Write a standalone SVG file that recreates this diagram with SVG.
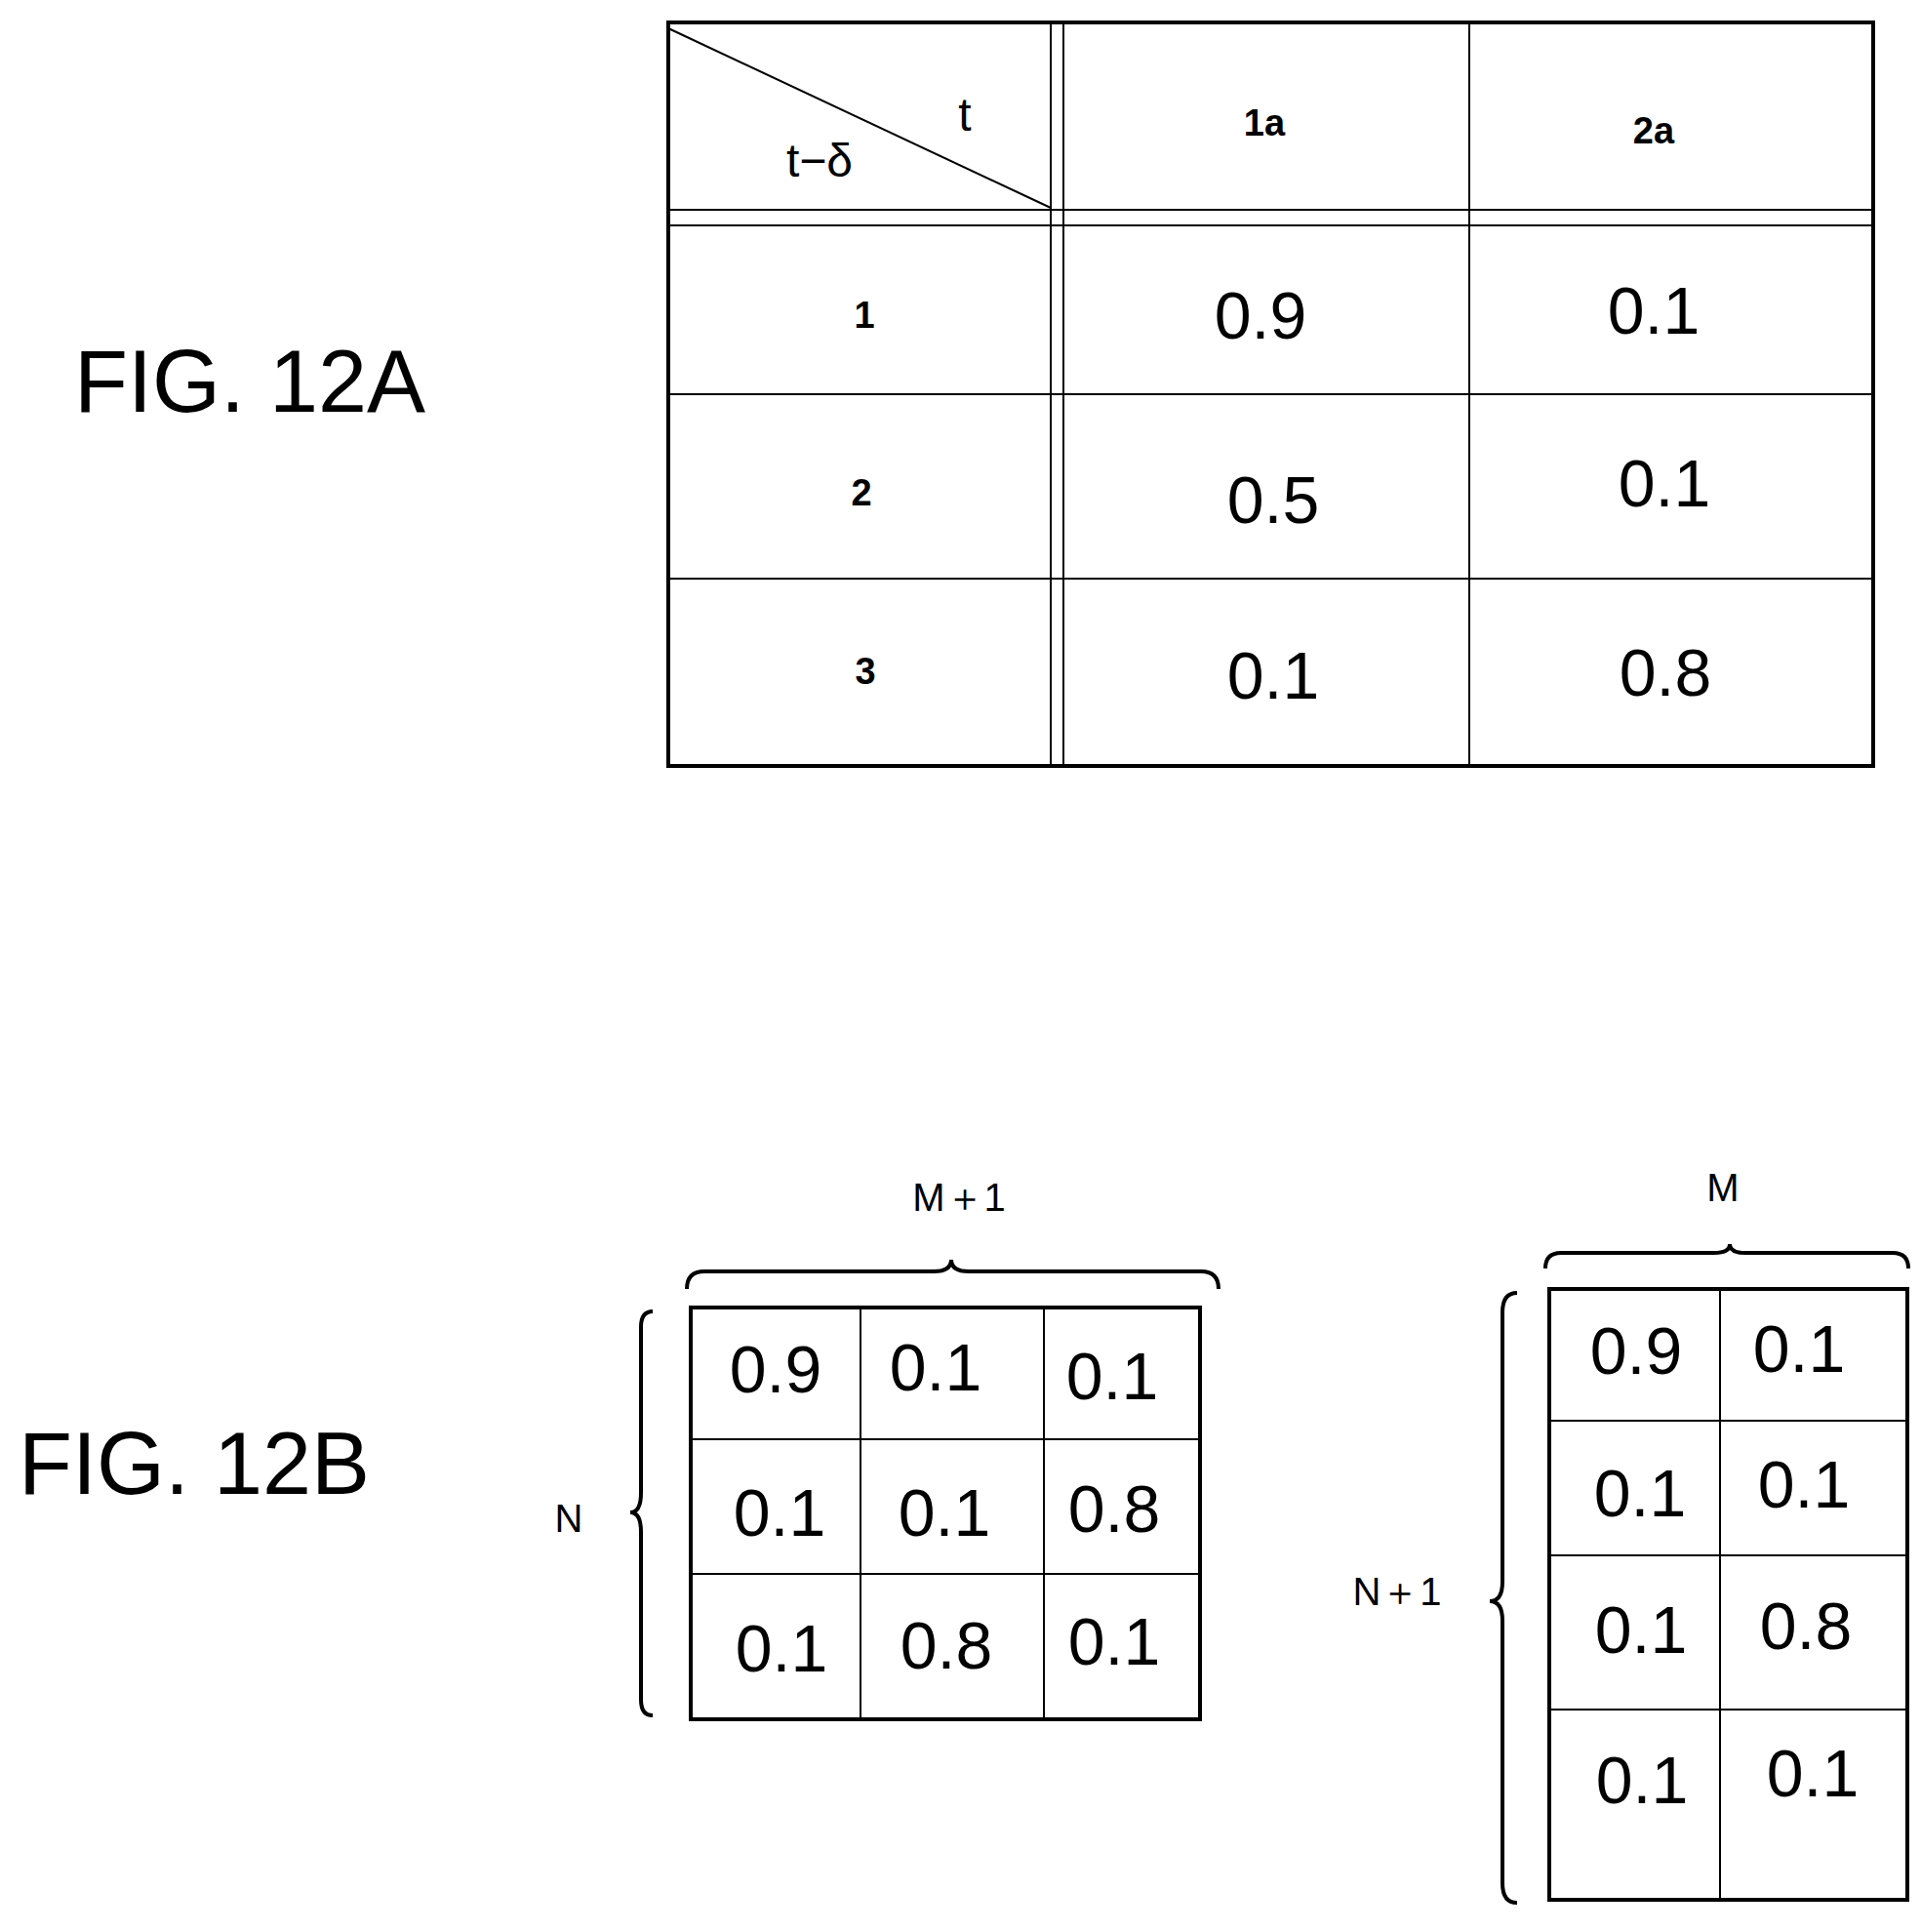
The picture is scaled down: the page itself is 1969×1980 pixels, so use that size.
<svg xmlns="http://www.w3.org/2000/svg" width="1969" height="1980" viewBox="0 0 1969 1980">
<style>
.o{fill:none;stroke:#000;stroke-width:4}
.i{fill:none;stroke:#000;stroke-width:2}
.v{font-family:"Liberation Sans",Arial,sans-serif;font-size:68px;text-anchor:middle;dominant-baseline:central}
.s{font-family:"Liberation Sans",Arial,sans-serif;font-size:38px;font-weight:bold;text-anchor:middle;dominant-baseline:central}
.l{font-family:"Liberation Sans",Arial,sans-serif;font-size:40px;text-anchor:middle;dominant-baseline:central}
.t{font-family:"Liberation Sans",Arial,sans-serif;font-size:48px;text-anchor:middle;dominant-baseline:central}
.f{font-family:"Liberation Sans",Arial,sans-serif;font-size:90px}
</style>
<rect width="1969" height="1980" fill="#fff"/>
<text class="f" x="76" y="422">FIG. 12A</text>
<text class="f" x="19" y="1531">FIG. 12B</text>
<g id="tableA">
<rect class="o" x="685" y="23" width="1235" height="762"/>
<line class="i" x1="1077" y1="23" x2="1077" y2="785"/>
<line class="i" x1="1090" y1="23" x2="1090" y2="785"/>
<line class="i" x1="685" y1="215" x2="1920" y2="215"/>
<line class="i" x1="685" y1="231" x2="1920" y2="231"/>
<line class="i" x1="1506" y1="23" x2="1506" y2="785"/>
<line class="i" x1="685" y1="404" x2="1920" y2="404"/>
<line class="i" x1="685" y1="593" x2="1920" y2="593"/>
<line class="i" x1="685" y1="29" x2="1077" y2="213"/>
<text class="t" x="989" y="117">t</text>
<text class="t" x="840" y="164">t−δ</text>
<text class="s" x="1296" y="126">1a</text>
<text class="s" x="1695" y="134">2a</text>
<text class="s" x="886" y="323">1</text>
<text class="s" x="883" y="505">2</text>
<text class="s" x="887" y="688">3</text>
<text class="v" x="1292" y="323">0.9</text>
<text class="v" x="1695" y="318">0.1</text>
<text class="v" x="1305" y="512">0.5</text>
<text class="v" x="1706" y="495">0.1</text>
<text class="v" x="1305" y="692">0.1</text>
<text class="v" x="1707" y="689">0.8</text>
</g>
<g id="matrixB1">
<rect class="o" x="708" y="1340" width="522" height="422"/>
<line class="i" x1="882" y1="1340" x2="882" y2="1762"/>
<line class="i" x1="1070" y1="1340" x2="1070" y2="1762"/>
<line class="i" x1="708" y1="1475" x2="1230" y2="1475"/>
<line class="i" x1="708" y1="1613" x2="1230" y2="1613"/>
<text class="v" x="795" y="1403">0.9</text>
<text class="v" x="959" y="1401">0.1</text>
<text class="v" x="1140" y="1410">0.1</text>
<text class="v" x="799" y="1550">0.1</text>
<text class="v" x="968" y="1550">0.1</text>
<text class="v" x="1142" y="1546">0.8</text>
<text class="v" x="801" y="1689">0.1</text>
<text class="v" x="970" y="1686">0.8</text>
<text class="v" x="1142" y="1682">0.1</text>
</g>
<g id="matrixB2">
<rect class="o" x="1588" y="1321" width="367" height="626"/>
<line class="i" x1="1763" y1="1321" x2="1763" y2="1947"/>
<line class="i" x1="1588" y1="1456" x2="1955" y2="1456"/>
<line class="i" x1="1588" y1="1594" x2="1955" y2="1594"/>
<line class="i" x1="1588" y1="1752" x2="1955" y2="1752"/>
<text class="v" x="1677" y="1384">0.9</text>
<text class="v" x="1844" y="1382">0.1</text>
<text class="v" x="1681" y="1530">0.1</text>
<text class="v" x="1849" y="1521">0.1</text>
<text class="v" x="1682" y="1670">0.1</text>
<text class="v" x="1851" y="1666">0.8</text>
<text class="v" x="1683" y="1824">0.1</text>
<text class="v" x="1858" y="1817">0.1</text>
</g>
<g id="connectors">
<path class="o" stroke-width="3" d="M704,1321 Q704,1303 722,1303 L957,1303 Q975,1303 975,1291 Q975,1303 993,1303 L1231,1303 Q1249,1303 1249,1321"/>
<path class="o" stroke-width="3" d="M669,1344 Q657,1344 657,1360 L657,1530 Q657,1550 646,1550 Q657,1550 657,1570 L657,1742 Q657,1758 669,1758"/>
<path class="o" stroke-width="3" d="M1584,1300 Q1584,1284 1600,1284 L1757,1284 Q1773,1284 1773,1275 Q1773,1284 1789,1284 L1940,1284 Q1956,1284 1956,1300"/>
<path class="o" stroke-width="3" d="M1555,1325 Q1540,1325 1540,1345 L1540,1621 Q1540,1641 1527,1641 Q1540,1641 1540,1661 L1540,1930 Q1540,1950 1555,1950"/>
</g>
<text class="l" x="983" y="1227">M＋1</text>
<text class="l" x="1766" y="1217">M</text>
<text class="l" x="583" y="1556">N</text>
<text class="l" x="1432" y="1631">N＋1</text>
</svg>
